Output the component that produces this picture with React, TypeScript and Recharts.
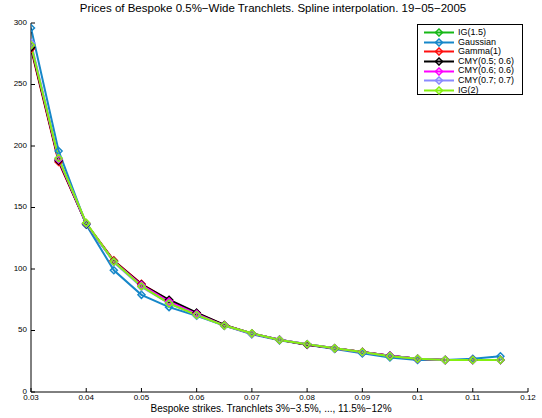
import React from 'react';
import { LineChart, Line, XAxis, YAxis, Legend } from 'recharts';

const strikes = [0.03, 0.035, 0.04, 0.045, 0.05, 0.055, 0.06, 0.065, 0.07, 0.075, 0.08, 0.085, 0.09, 0.095, 0.1, 0.105, 0.11, 0.115];

const ig15 = [282, 189, 137, 106, 86, 72.5, 63, 54, 47.5, 42.5, 38.8, 35.5, 32.5, 29.5, 27, 26, 26, 26];
const gaussian = [296, 196, 136, 99, 79, 69, 62, 54, 47, 42, 38.5, 35, 31.4, 28, 26, 26, 27, 29];
const gamma1 = [279, 187, 137, 107, 88, 74.5, 64, 54.5, 47.5, 42.5, 38.5, 35.5, 32.5, 29.5, 27, 26, 26, 26];
const cmy56 = [280, 188, 136.5, 106.5, 87.5, 75, 64.5, 54.5, 47.5, 42.5, 38.5, 35.5, 32.5, 29.5, 27, 26, 26, 26];
const cmy66 = [282, 189, 137, 106, 87, 73.5, 63.5, 54, 47.5, 42.5, 38.8, 35.5, 32.5, 29.5, 27, 26, 26, 26];
const cmy77 = [284, 190, 137, 105.5, 85.5, 72, 62.5, 54, 47.5, 42.5, 38.8, 35.5, 32.3, 29.3, 27, 26, 26, 26];
const ig2 = [282, 190, 137.5, 106, 86, 72, 62.6, 54, 47.7, 42.3, 38.8, 35.5, 32.5, 29, 27, 26, 26, 26];

const xTicks = [0.03, 0.04, 0.05, 0.06, 0.07, 0.08, 0.09, 0.1, 0.11, 0.12];
const yTicks = [0, 50, 100, 150, 200, 250, 300];

const seriesNames = ['IG(1.5)', 'Gaussian', 'Gamma(1)', 'CMY(0.5; 0.6)', 'CMY(0.6; 0.6)', 'CMY(0.7; 0.7)', 'IG(2)'];
const seriesValues = [ig15, gaussian, gamma1, cmy56, cmy66, cmy77, ig2];
const seriesColors = ['#17b817', '#1687c9', '#ff1010', '#000000', '#ff00ff', '#8a8aff', '#84f010'];

const title = 'Prices of Bespoke 0.5%\u2212Wide Tranchlets. Spline interpolation. 19\u221205\u22122005';
const xLabel = 'Bespoke strikes. Tranchlets 3%\u22123.5%, ..., 11.5%\u221212%';

const data = strikes.map((s, i) => {
  const row: any = { strike: s };
  seriesNames.forEach((n, k) => {
    row['s' + k] = seriesValues[k][i];
  });
  return row;
});

const FONT = '"Liberation Sans", Arial, Helvetica, sans-serif';

const fmt = (v: number) => String(Number(v.toFixed(3)));

const Diamond = (props: any) => {
  const { cx, cy, stroke } = props;
  if (cx == null || cy == null) return null;
  const r = 3.5;
  return (
    <g>
      <polygon
        points={`${cx},${cy - r} ${cx + r},${cy} ${cx},${cy + r} ${cx - r},${cy}`}
        fill="none"
        stroke={stroke}
        strokeWidth={1.5}
      />
      <circle cx={cx} cy={cy} r={0.8} fill={stroke} />
    </g>
  );
};

const LegendBox = () => (
  <div
    style={{
      width: 106,
      height: 71,
      border: '1px solid #000',
      background: '#fff',
      boxSizing: 'border-box',
      paddingTop: 3,
      fontFamily: FONT,
      fontSize: 9,
    }}
  >
    {seriesNames.map((n, k) => (
      <div key={n} style={{ display: 'flex', alignItems: 'center', height: 9.6, lineHeight: '9.6px' }}>
        <svg width={40} height={9} style={{ flex: 'none' }}>
          <line x1={6} y1={4.5} x2={36} y2={4.5} stroke={seriesColors[k]} strokeWidth={2} />
          <polygon points="21,1 24.5,4.5 21,8 17.5,4.5" fill="none" stroke={seriesColors[k]} strokeWidth={1.5} />
        </svg>
        <span style={{ whiteSpace: 'nowrap', color: '#000' }}>{n}</span>
      </div>
    ))}
  </div>
);

export default function App() {
  return (
    <div style={{ position: 'absolute', left: 0, top: 0, width: 542, height: 418, background: '#fff' }}>
      <div
        style={{
          position: 'absolute',
          left: 0,
          top: 2,
          width: 542,
          textAlign: 'center',
          fontFamily: FONT,
          fontSize: 11.5,
          paddingLeft: 2,
          color: '#000',
          whiteSpace: 'nowrap',
        }}
      >
        {title}
      </div>
      <LineChart width={542} height={418} data={data} margin={{ top: 23, right: 14, left: 0, bottom: 0 }}>
        <XAxis
          xAxisId="bottom"
          dataKey="strike"
          type="number"
          domain={[0.03, 0.12]}
          ticks={xTicks}
          tickFormatter={fmt}
          height={26}
          tickSize={-4}
          tickMargin={6}
          stroke="#000"
          tick={{ fontSize: 8, fill: '#000', fontFamily: FONT }}
          allowDataOverflow
        />
        <XAxis
          xAxisId="top"
          orientation="top"
          dataKey="strike"
          type="number"
          domain={[0.03, 0.12]}
          ticks={xTicks}
          height={0}
          tickSize={-4}
          tick={false}
          stroke="#000"
        />
        <YAxis
          yAxisId="left"
          type="number"
          domain={[0, 300]}
          ticks={yTicks}
          width={31}
          tickSize={-4}
          tickMargin={8}
          stroke="#000"
          tick={{ fontSize: 8, fill: '#000', fontFamily: FONT, dy: -1 }}
        />
        <YAxis
          yAxisId="right"
          orientation="right"
          type="number"
          domain={[0, 300]}
          ticks={yTicks}
          width={0}
          tickSize={-4}
          tick={false}
          stroke="#000"
        />
        {seriesNames.map((n, k) => (
          <Line
            key={n}
            xAxisId="bottom"
            yAxisId="left"
            type="linear"
            dataKey={'s' + k}
            name={n}
            stroke={seriesColors[k]}
            strokeWidth={2}
            dot={<Diamond />}
            activeDot={false}
            isAnimationActive={false}
          />
        ))}
        <Legend
          layout="horizontal"
          verticalAlign="middle"
          align="center"
          content={() => <LegendBox />}
          wrapperStyle={{ position: 'absolute', left: 417, top: 24, width: 'auto', height: 'auto' }}
        />
      </LineChart>
      <div
        style={{
          position: 'absolute',
          left: 0,
          top: 403,
          width: 542,
          textAlign: 'center',
          fontFamily: FONT,
          fontSize: 10,
          lineHeight: '11px',
          color: '#000',
          whiteSpace: 'nowrap',
        }}
      >
        {xLabel}
      </div>
    </div>
  );
}
